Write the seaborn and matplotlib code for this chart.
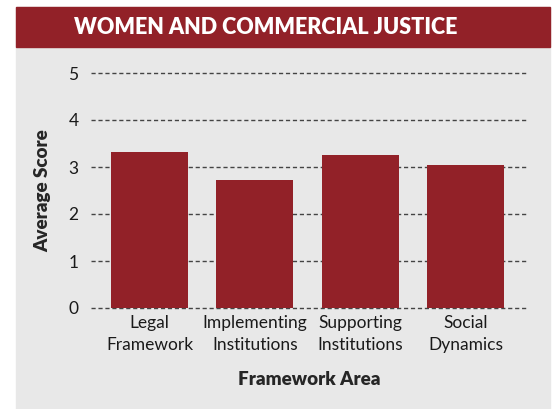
import matplotlib
matplotlib.use('Agg')
import matplotlib.pyplot as plt
from matplotlib.patches import Rectangle
import pandas as pd
import seaborn as sns

# data
areas = ['Legal\nFramework', 'Implementing\nInstitutions', 'Supporting\nInstitutions', 'Social\nDynamics']
scores = [3.32, 2.72, 3.26, 3.04]
y_ticks = [0, 1, 2, 3, 4, 5]

df = pd.DataFrame({'area': areas, 'score': scores})

red = '#922128'
panel = '#e8e8e8'

sns.set_style('white')
plt.rcParams['font.family'] = ['Lato', 'DejaVu Sans']

W, H = 555, 409
fig = plt.figure(figsize=(W / 100, H / 100), dpi=100)
fig.patch.set_facecolor('white')

# gray panel + title banner (pixel coords converted to figure fractions)
fig.patches.append(Rectangle((16 / W, 0), (550 - 16) / W, 1 - 7 / H,
                             transform=fig.transFigure, color=panel, zorder=-2))
fig.patches.append(Rectangle((16 / W, 1 - 47 / H), (550 - 16) / W, 40 / H,
                             transform=fig.transFigure, color=red, zorder=-1))
fig.text(266 / W, 1 - 27 / H, 'WOMEN AND COMMERCIAL JUSTICE', color='white',
         fontsize=15.5, fontweight='heavy', ha='center', va='center')

ax = fig.add_axes([91 / W, 1 - 308 / H, (528 - 91) / W, (308 - 73) / H])
ax.set_facecolor('none')

sns.barplot(data=df, x='area', y='score', color=red, saturation=1, width=0.73,
            linewidth=0, ax=ax, zorder=3)

ax.set_ylim(0, 5)
ax.set_xlim(-0.556, 3.594)
ax.set_yticks(y_ticks)
for t in y_ticks:
    ax.axhline(t, color='#444444', lw=1, ls=(0, (3, 2)), zorder=2, clip_on=False)

sns.despine(left=True, bottom=True)
ax.tick_params(axis='both', length=0, labelsize=12.5, colors='#1a1a1a')
ax.tick_params(axis='y', pad=9)
ax.tick_params(axis='x', pad=5)
ax.set_xticks(range(len(areas)))
ax.set_xticklabels(areas, linespacing=1.45)

ax.set_xlabel('Framework Area', fontsize=13.5, fontweight='heavy', labelpad=13)
ax.set_ylabel('Average Score', fontsize=13.5, fontweight='heavy', labelpad=12)

plt.savefig('out.png', dpi=100)
